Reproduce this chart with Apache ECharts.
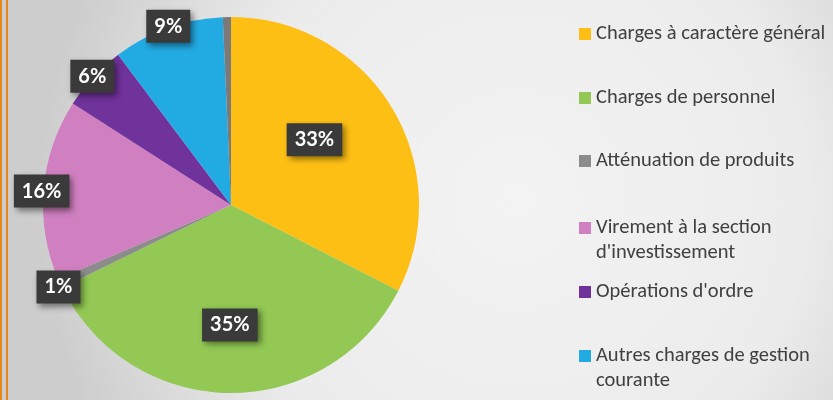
<!DOCTYPE html>
<html>
<head>
<meta charset="utf-8">
<script src="https://cdn.jsdelivr.net/npm/echarts@6/dist/echarts.min.js"></script>
<style>
  html, body { margin: 0; padding: 0; }
  #main { width: 833px; height: 400px; }
</style>
</head>
<body>
<div id="main"></div>
<script>
// categories in legend order (clockwise from 12 o'clock)
var categories = [
  'Charges à caractère général',
  'Charges de personnel',
  'Atténuation de produits',
  "Virement à la section\nd'investissement",
  "Opérations d'ordre",
  'Autres charges de gestion\ncourante'
];
// slice sizes
var shares = [32.7, 35.4, 0.8, 15.6, 5.7, 9.6];
// thin unlabelled grey sliver just left of 12 o'clock
var sliver = 0.7;
// percent labels printed on the chart
var pctLabels = ['33%', '35%', '1%', '16%', '6%', '9%'];
var colors = ['#fdbf14', '#92c853', '#8c8c8c', '#d07fc0', '#70329b', '#22abe3'];

var chart = echarts.init(document.getElementById('main'));

var pieData = categories.map(function (name, i) {
  return { name: name, value: shares[i], itemStyle: { color: colors[i] } };
});
pieData.push({ name: '', value: sliver, itemStyle: { color: '#7a7a7a' } });

var labelBox = {
  color: '#ffffff',
  fontFamily: 'Lato',
  fontWeight: 'bold',
  fontSize: 20,
  backgroundColor: '#3a3a3a',
  padding: [7, 8, 6, 8],
  shadowColor: 'rgba(0,0,0,0.45)',
  shadowBlur: 6,
  shadowOffsetX: 3,
  shadowOffsetY: 3
};

// transparent copy of the pie, only used to place the percent labels
function labelSeries(radius, shown, offset) {
  return {
    type: 'pie',
    silent: true,
    center: [231, 205],
    radius: radius,
    startAngle: 90,
    clockwise: true,
    legendHoverLink: false,
    labelLine: { show: false },
    itemStyle: { color: 'rgba(0,0,0,0)' },
    emphasis: { disabled: true },
    data: pieData.map(function (d, i) {
      return {
        value: d.value,
        label: Object.assign({
          show: shown.indexOf(i) >= 0,
          position: 'inside',
          offset: offset || [0, 0],
          formatter: pctLabels[i] || ''
        }, labelBox)
      };
    })
  };
}

var legendCenters = [33, 97, 160, 226, 291, 354];
var legends = categories.map(function (name, i) {
  var twoLines = name.indexOf('\n') >= 0;
  return {
    left: 579,
    top: twoLines ? legendCenters[i] - 35.5 : legendCenters[i] - 11.5,
    padding: 0,
    orient: 'vertical',
    selectedMode: false,
    icon: 'rect',
    itemWidth: 12,
    itemHeight: 12,
    itemGap: 0,
    data: [name],
    // blank first line so the square sits beside the first text line
    formatter: function (n) { return twoLines ? '\n' + n : n; },
    textStyle: {
      color: '#404040',
      fontFamily: 'Carlito, Lato',
      fontSize: 20.5,
      lineHeight: 25
    }
  };
});

var option = {
  backgroundColor: new echarts.graphic.RadialGradient(0.62, 0.5, 1.2, [
    { offset: 0, color: '#f3f3f3' },
    { offset: 0.6, color: '#ececec' },
    { offset: 1, color: '#cdcdcd' }
  ]),
  animation: false,
  legend: legends,
  graphic: [
    { type: 'rect', shape: { x: 0, y: 0, width: 2, height: 400 }, style: { fill: '#e8861e' } },
    { type: 'rect', shape: { x: 6, y: 0, width: 2, height: 400 }, style: { fill: '#e8861e' } }
  ],
  series: [
    {
      name: 'Dépenses',
      type: 'pie',
      center: [231, 205],
      radius: 188,
      startAngle: 90,
      clockwise: true,
      label: { show: false },
      labelLine: { show: false },
      emphasis: { disabled: true },
      data: pieData
    },
    labelSeries([0, 206], [0], [-7, -10]),
    labelSeries([0, 234], [1]),
    labelSeries([166, 212], [2, 3, 4, 5], [2, 2])
  ]
};
chart.setOption(option);
</script>
</body>
</html>
